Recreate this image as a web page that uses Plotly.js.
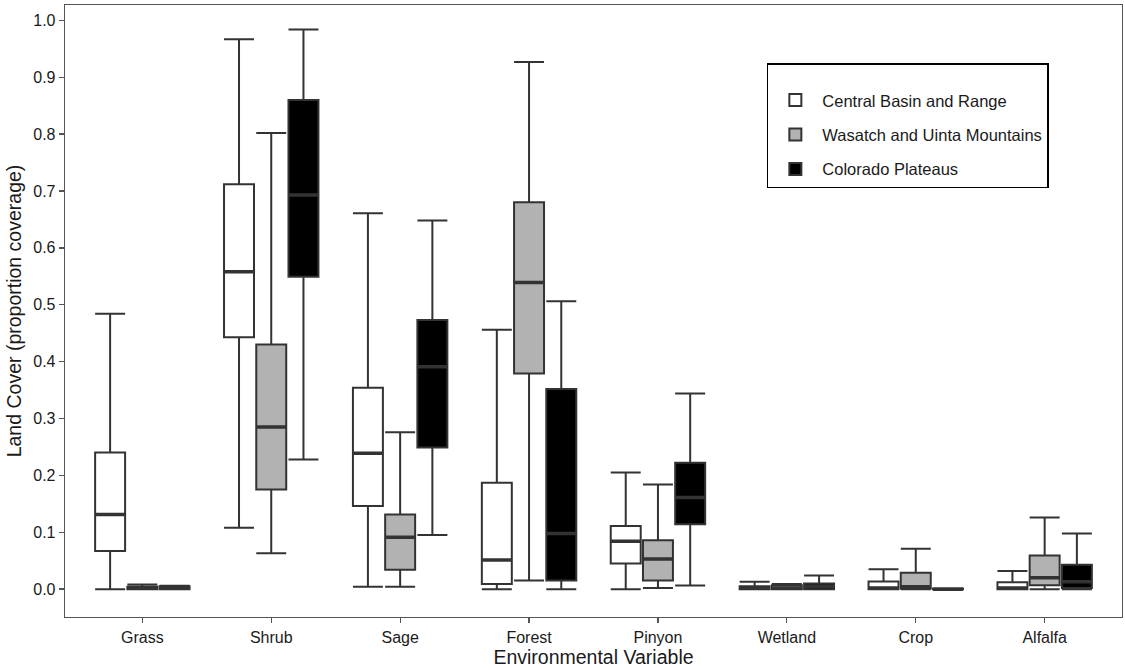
<!DOCTYPE html>
<html>
<head>
<meta charset="utf-8">
<script src="https://cdn.plot.ly/plotly-3.0.1.min.js"></script>
<style>html,body{margin:0;padding:0;background:#fff;}#chart{width:1125px;height:670px;}</style>
</head>
<body>
<div id="chart"></div>
<script>
const categories = ["Grass","Shrub","Sage","Forest","Pinyon","Wetland","Crop","Alfalfa"];
const seriesNames = ["Central Basin and Range","Wasatch and Uinta Mountains","Colorado Plateaus"];
const fillColors = ["#ffffff","#b2b2b2","#000000"];

// Central Basin and Range
const cbrLower  = [0.000, 0.108, 0.004, 0.000, 0.000, 0.000, 0.000, 0.000];
const cbrQ1     = [0.067, 0.443, 0.146, 0.009, 0.045, 0.000, 0.000, 0.000];
const cbrMedian = [0.131, 0.558, 0.239, 0.051, 0.084, 0.002, 0.002, 0.002];
const cbrQ3     = [0.240, 0.712, 0.354, 0.187, 0.111, 0.005, 0.0135, 0.012];
const cbrUpper  = [0.484, 0.967, 0.661, 0.456, 0.205, 0.013, 0.035, 0.032];

// Wasatch and Uinta Mountains
const wumLower  = [0.000, 0.063, 0.004, 0.015, 0.002, 0.000, 0.000, 0.000];
const wumQ1     = [0.000, 0.175, 0.034, 0.379, 0.015, 0.000, 0.001, 0.007];
const wumMedian = [0.002, 0.285, 0.091, 0.539, 0.053, 0.002, 0.004, 0.020];
const wumQ3     = [0.004, 0.430, 0.131, 0.680, 0.086, 0.007, 0.029, 0.059];
const wumUpper  = [0.008, 0.802, 0.276, 0.927, 0.184, 0.009, 0.071, 0.126];

// Colorado Plateaus
const cpLower   = [0.000, 0.228, 0.095, 0.000, 0.0065, 0.000, 0.000, 0.000];
const cpQ1      = [0.000, 0.549, 0.249, 0.015, 0.114, 0.000, 0.000, 0.002];
const cpMedian  = [0.002, 0.693, 0.391, 0.098, 0.161, 0.005, 0.000, 0.013];
const cpQ3      = [0.005, 0.860, 0.473, 0.352, 0.222, 0.010, 0.001, 0.043];
const cpUpper   = [0.006, 0.984, 0.648, 0.506, 0.344, 0.024, 0.001, 0.098];

const yTickVals = [0,0.1,0.2,0.3,0.4,0.5,0.6,0.7,0.8,0.9,1.0];
const yTickText = ["0.0","0.1","0.2","0.3","0.4","0.5","0.6","0.7","0.8","0.9","1.0"];

const stats = [
  [cbrLower, cbrQ1, cbrMedian, cbrQ3, cbrUpper],
  [wumLower, wumQ1, wumMedian, wumQ3, wumUpper],
  [cpLower, cpQ1, cpMedian, cpQ3, cpUpper]
];

const traces = [];
stats.forEach((s, i) => {
  traces.push({
    type: 'box',
    name: seriesNames[i],
    legendgroup: 'g' + i,
    offsetgroup: 'g' + i,
    x: categories,
    lowerfence: s[0],
    q1: s[1],
    median: s[2],
    q3: s[3],
    upperfence: s[4],
    boxpoints: false,
    fillcolor: fillColors[i],
    line: {color: '#333333', width: 2},
    whiskerwidth: 1,
    hoverinfo: 'skip'
  });
});
// thicker median bars (ggplot-style), drawn from the same median arrays
stats.forEach((s, i) => {
  traces.push({
    type: 'box',
    name: seriesNames[i] + ' median',
    showlegend: false,
    legendgroup: 'g' + i,
    offsetgroup: 'g' + i,
    x: categories,
    lowerfence: s[2],
    q1: s[2],
    median: s[2],
    q3: s[2],
    upperfence: s[2],
    boxpoints: false,
    fillcolor: 'rgba(0,0,0,0)',
    line: {color: '#333333', width: 3.5},
    whiskerwidth: 0,
    hoverinfo: 'skip'
  });
});

const layout = {
  width: 1125,
  height: 670,
  margin: {l: 65, r: 3, t: 5, b: 53},
  paper_bgcolor: '#ffffff',
  plot_bgcolor: '#ffffff',
  font: {family: 'Liberation Sans, Arial, sans-serif', color: '#1a1a1a'},
  boxmode: 'group',
  boxgap: 0.25,
  boxgroupgap: 0.07,
  showlegend: true,
  legend: {
    x: 0.664, y: 0.905, xanchor: 'left', yanchor: 'top',
    bgcolor: '#ffffff', bordercolor: '#000000', borderwidth: 1.5,
    font: {size: 16.5, color: '#1a1a1a'},
    tracegroupgap: 10,
    itemwidth: 44,
    title: {text: ' ', font: {size: 14}}
  },
  xaxis: {
    type: 'category',
    range: [-0.6, 7.6],
    showgrid: false, zeroline: false,
    showline: true, mirror: true, linecolor: '#555555', linewidth: 1.3,
    ticks: 'outside', ticklen: 5, tickcolor: '#555555', tickwidth: 1.3,
    tickfont: {size: 16, color: '#1a1a1a'},
    title: {text: 'Environmental Variable', font: {size: 19.5, color: '#1a1a1a'}, standoff: 2}
  },
  yaxis: {
    range: [-0.049, 1.027],
    tickvals: yTickVals, ticktext: yTickText,
    showgrid: false, zeroline: false,
    showline: true, mirror: true, linecolor: '#555555', linewidth: 1.3,
    ticks: 'outside', ticklen: 5, tickcolor: '#555555', tickwidth: 1.3,
    tickfont: {size: 16, color: '#1a1a1a'},
    title: {text: 'Land Cover (proportion coverage)', font: {size: 19.5, color: '#1a1a1a'}, standoff: 6}
  }
};

Plotly.newPlot('chart', traces, layout, {displayModeBar: false, staticPlot: true});
</script>
</body>
</html>
